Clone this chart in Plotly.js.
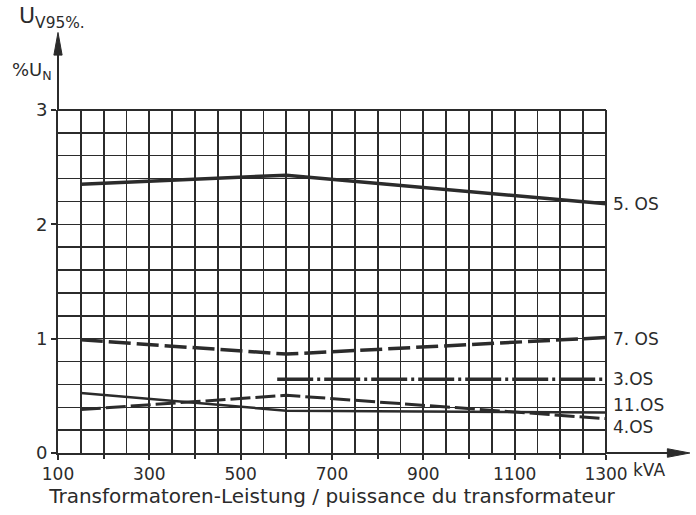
<!DOCTYPE html>
<html>
<head>
<meta charset="utf-8">
<script src="https://cdn.plot.ly/plotly-3.0.1.min.js"></script>
<style>html,body{margin:0;padding:0;background:#fff;}#chart{width:696px;height:515px;}</style>
</head>
<body>
<div id="chart"></div>
<script>
// Data (kVA vs U_V95 % U_N)
const os5_x = [150, 600, 1300];
const os5_y = [2.35, 2.43, 2.18];
const os7_x = [150, 600, 1300];
const os7_y = [0.99, 0.865, 1.01];
const os3_x = [580, 1300];
const os3_y = [0.645, 0.645];
const os11_x = [150, 600, 1300];
const os11_y = [0.525, 0.37, 0.355];
const os4_x = [150, 600, 1300];
const os4_y = [0.38, 0.505, 0.30];

const xTickVals = [100, 300, 500, 700, 900, 1100, 1300];
const xTickText = ['100', '300', '500', '700', '900', '1100', '1300'];
const xMidTicks = [200, 400, 600, 800, 1000, 1200];
const yTickVals = [0, 1, 2, 3];
const yTickText = ['0', '1', '2', '3'];

const seriesLabels = ['5. OS', '7. OS', '3.OS', '11.OS', '4.OS'];
const labelY = [2.18, 1.0, 0.65, 0.42, 0.23];

const ink = '#2b2b2b';
const FONT = 'DejaVu Sans, sans-serif';

const traces = [
  {x: os5_x, y: os5_y, mode: 'lines', line: {color: ink, width: 3.5}},
  {x: os7_x, y: os7_y, mode: 'lines', line: {color: ink, width: 3.5, dash: '22px,6px'}},
  {x: os3_x, y: os3_y, mode: 'lines', line: {color: ink, width: 3.5, dash: '36px,4px,3px,4px'}},
  {x: os11_x, y: os11_y, mode: 'lines', line: {color: ink, width: 2.5}},
  {x: os4_x, y: os4_y, mode: 'lines', line: {color: ink, width: 3, dash: '20px,5px'}},
  {x: [], y: [], xaxis: 'x2', yaxis: 'y', mode: 'lines', hoverinfo: 'skip'}
];

const annotations = seriesLabels.map((t, i) => ({
  text: t, xref: 'paper', yref: 'y', x: 1.01, y: labelY[i],
  xanchor: 'left', yanchor: 'middle', showarrow: false,
  font: {family: FONT, size: 17, color: ink}
}));

annotations.push({
  text: 'kVA', xref: 'paper', yref: 'paper', x: 1.046, y: 0, yshift: -17,
  xanchor: 'left', yanchor: 'middle', showarrow: false,
  font: {family: FONT, size: 17, color: ink}
});
annotations.push({
  text: 'U<sub>V95%.</sub>', xref: 'paper', yref: 'paper', x: -0.075, y: 1.27,
  xanchor: 'left', yanchor: 'middle', showarrow: false,
  font: {family: FONT, size: 22, color: ink}
});
annotations.push({
  text: '%U<sub>N</sub>', xref: 'paper', yref: 'paper', x: -0.087, y: 1.115,
  xanchor: 'left', yanchor: 'middle', showarrow: false,
  font: {family: FONT, size: 18, color: ink}
});

const layout = {
  width: 696, height: 515,
  margin: {l: 58, r: 90, t: 110, b: 62},
  paper_bgcolor: '#fff', plot_bgcolor: '#fff',
  showlegend: false,
  xaxis: {
    range: [100, 1300], tickvals: xTickVals, ticktext: xTickText,
    showgrid: true, gridcolor: ink, gridwidth: 2,
    minor: {tick0: 100, dtick: 50, showgrid: true, gridcolor: ink, gridwidth: 1.5},
    showline: true, linecolor: ink, linewidth: 2, mirror: false,
    ticks: 'outside', ticklen: 5, tickwidth: 2, tickcolor: ink,
    zeroline: false,
    tickfont: {family: FONT, size: 17, color: ink},
    title: {text: 'Transformatoren-Leistung / puissance du transformateur', font: {family: FONT, size: 20, color: ink}, standoff: 6}
  },
  xaxis2: {
    overlaying: 'x', matches: 'x', range: [100, 1300], side: 'bottom',
    tickvals: xMidTicks, showticklabels: false,
    showgrid: true, gridcolor: ink, gridwidth: 2,
    ticks: 'outside', ticklen: 5, tickwidth: 2, tickcolor: ink,
    showline: false, zeroline: false
  },
  yaxis: {
    range: [0, 3], tickvals: yTickVals, ticktext: yTickText,
    showgrid: true, gridcolor: ink, gridwidth: 1.5,
    minor: {tick0: 0, dtick: 0.2, showgrid: true, gridcolor: ink, gridwidth: 1.5},
    showline: true, linecolor: ink, linewidth: 2,
    ticks: 'outside', ticklen: 5, tickwidth: 2, tickcolor: ink,
    zeroline: false,
    tickfont: {family: FONT, size: 18, color: ink}
  },
  shapes: [
    {type: 'line', xref: 'paper', yref: 'paper', x0: 1, x1: 1, y0: 0, y1: 1, line: {color: ink, width: 2}},
    {type: 'line', xref: 'paper', yref: 'paper', x0: 0, x1: 1, y0: 1, y1: 1, line: {color: ink, width: 2}},
    // y-axis arrow
    {type: 'line', xref: 'paper', yref: 'paper', x0: 0, x1: 0, y0: 1, y1: 1.17, line: {color: ink, width: 2}},
    {type: 'path', xref: 'paper', yref: 'paper', path: 'M -0.0075 1.16 L 0 1.226 L 0.0075 1.16 Z', fillcolor: ink, line: {color: ink, width: 1}},
    // x-axis arrow
    {type: 'line', xref: 'paper', yref: 'paper', x0: 1, x1: 1.12, y0: 0, y1: 0, line: {color: ink, width: 2}},
    {type: 'path', xref: 'paper', yref: 'paper', path: 'M 1.112 -0.0125 L 1.153 0 L 1.112 0.0125 Z', fillcolor: ink, line: {color: ink, width: 1}}
  ],
  annotations: annotations
};

Plotly.newPlot('chart', traces, layout, {displayModeBar: false, staticPlot: true});
</script>
</body>
</html>
